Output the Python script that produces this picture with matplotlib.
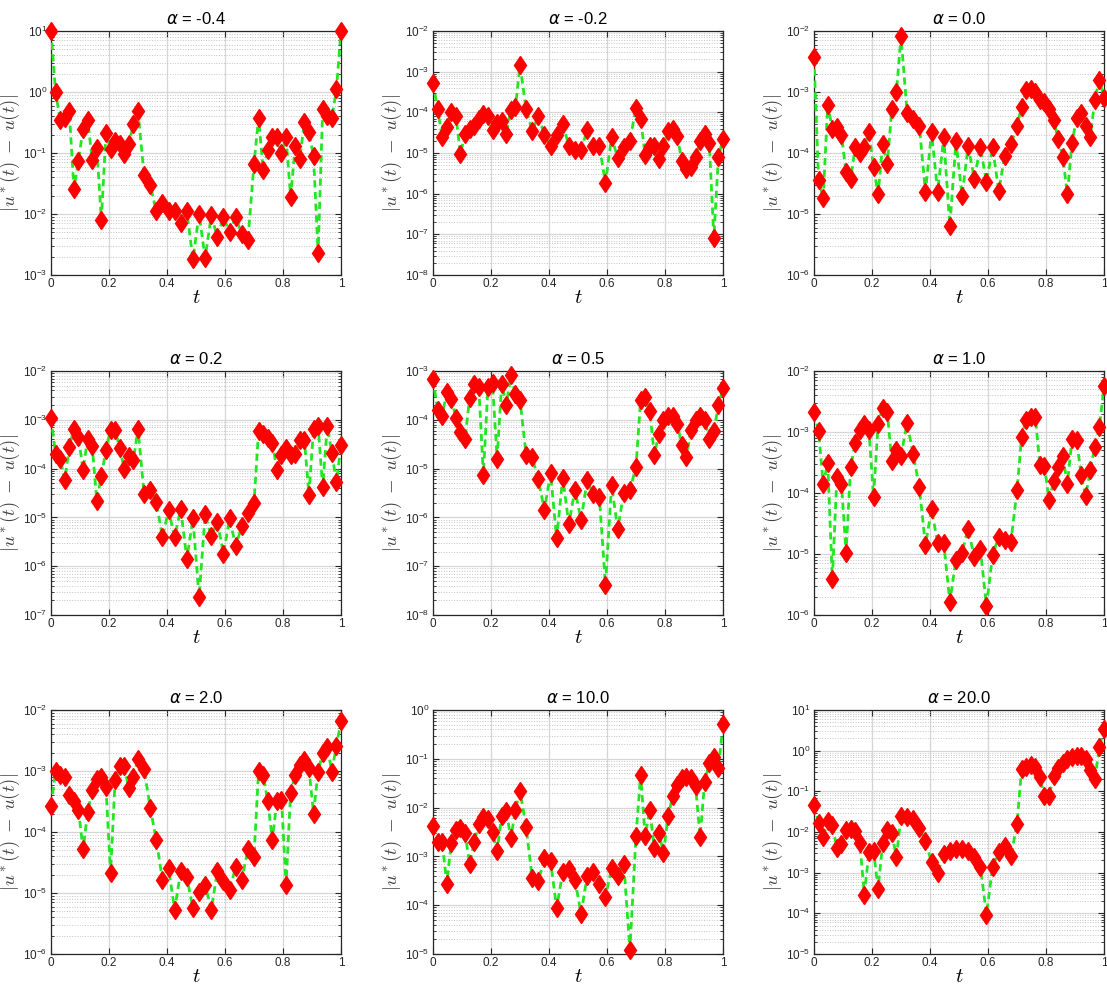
import numpy as np
import matplotlib
matplotlib.use("Agg")
import matplotlib.pyplot as plt

plt.rcParams["font.family"] = ["Liberation Sans", "DejaVu Sans"]

# mesh: three pieces, 20 nodes each, shared end nodes
t_nodes = np.concatenate([
    np.linspace(0.0, 0.3, 20),
    np.linspace(0.3, 0.7, 20)[1:],
    np.linspace(0.7, 1.0, 20)[1:],
])

alphas = ["-0.4", "-0.2", "0.0", "0.2", "0.5", "1.0", "2.0", "10.0", "20.0"]

err_m04 = [10, 1.0, 0.35, 0.37, 0.48, 0.026, 0.075, 0.25, 0.35, 0.078, 0.12, 0.008, 0.21, 0.115,
           0.16, 0.14, 0.095, 0.14, 0.3, 0.48,
           0.043, 0.03, 0.011, 0.015, 0.011, 0.011, 0.007, 0.011, 0.0018, 0.01, 0.0019, 0.0095,
           0.0042, 0.0088, 0.005, 0.0088, 0.0047, 0.0037, 0.066,
           0.38, 0.052, 0.11, 0.18, 0.18, 0.1, 0.18, 0.019, 0.13, 0.08, 0.32, 0.22, 0.088, 0.0023,
           0.52, 0.4, 0.37, 1.1, 10]
err_m02 = [5.4e-4, 1.2e-4, 2.5e-5, 4.3e-5, 1.0e-4, 8e-5, 9.5e-6, 3.0e-5, 3.8e-5, 4.7e-5, 7e-5,
           9e-5, 8e-5, 3.6e-5, 5.5e-5, 6.2e-5, 3.0e-5, 1.15e-4, 1.35e-4, 1.45e-3,
           1.2e-4, 3.5e-5, 8e-5, 2.8e-5, 1.5e-5, 2.8e-5, 5.3e-5, 1.5e-5, 1.2e-5, 1.2e-5, 3.7e-5,
           1.5e-5, 1.5e-5, 1.8e-6, 2.5e-5, 7.5e-6, 1.4e-5, 2.0e-5, 1.3e-4,
           6.8e-5, 9e-6, 1.5e-5, 1.5e-5, 7e-6, 1.5e-5, 3.4e-5, 3.9e-5, 2.6e-5, 6.5e-6, 4e-6, 4.6e-6,
           7.8e-6, 2e-5, 2.9e-5, 1.8e-5, 8.3e-8, 8e-6, 2.2e-5]
err_00 = [3.7e-3, 3.6e-5, 1.8e-5, 6.2e-4, 2.5e-4, 2.7e-4, 2.0e-4, 4.8e-5, 3.7e-5, 1.25e-4, 1.0e-4,
          1.25e-4, 2.2e-4, 5.8e-5, 2.1e-5, 1.4e-4, 6.6e-5, 5.2e-4, 1.0e-3, 8.3e-3,
          4.6e-4, 3.6e-4, 2.8e-4, 2.3e-5, 2.2e-4, 2.3e-5, 1.8e-4, 6.3e-6, 1.55e-4, 2.0e-5, 1.3e-4,
          3.8e-5, 1.25e-4, 3.3e-5, 1.25e-4, 2.4e-5, 9e-5, 1.4e-4, 2.8e-4,
          5.7e-4, 1.07e-3, 1.1e-3, 1.0e-3, 7.5e-4, 6.8e-4, 5.2e-4, 3.5e-4, 1.7e-4, 8.7e-5, 2.1e-5,
          1.45e-4, 3.7e-4, 4.6e-4, 2.8e-4, 1.8e-4, 7.5e-4, 1.6e-3, 8e-4]
err_02 = [1.1e-3, 2.0e-4, 1.6e-4, 5.8e-5, 2.8e-4, 6.6e-4, 4.5e-4, 9.3e-5, 4.1e-4, 2.9e-4, 2.2e-5,
          7.1e-5, 2.4e-4, 6.3e-4, 6.3e-4, 2.6e-4, 1.0e-4, 1.8e-4, 1.5e-4, 6.6e-4,
          3.0e-5, 3.7e-5, 2.1e-5, 3.9e-6, 1.4e-5, 4.0e-6, 1.5e-5, 1.4e-6, 9.5e-6, 2.3e-7, 1.15e-5,
          4.1e-6, 8.1e-6, 1.8e-6, 9.5e-6, 2.6e-6, 6.7e-6, 1.25e-5, 2.0e-5,
          5.9e-4, 5.2e-4, 4.3e-4, 3.4e-4, 9.5e-5, 1.9e-4, 2.7e-4, 1.9e-4, 2.0e-4, 3.8e-4, 3.9e-4,
          2.9e-5, 6.6e-4, 7.5e-4, 4.2e-5, 7.4e-4, 2.1e-4, 5.3e-5, 3.0e-4]
err_05 = [7e-4, 1.6e-4, 1.2e-4, 3.7e-4, 2.7e-4, 1.1e-4, 5.6e-5, 4.1e-5, 2.8e-4, 5.3e-4, 4.7e-4,
          7.3e-6, 4.8e-4, 5.6e-4, 1.6e-5, 5.5e-4, 2.0e-4, 8.2e-4, 3.4e-4, 2.6e-4,
          1.9e-5, 1.7e-5, 6e-6, 1.4e-6, 8.1e-6, 3.7e-7, 6.5e-6, 7.3e-7, 3.7e-6, 8.8e-7, 5.8e-6,
          3.0e-6, 2.6e-6, 4.1e-8, 4.7e-6, 5.7e-7, 3.2e-6, 3.6e-6, 1.1e-5,
          2.5e-4, 2.9e-4, 1.5e-4, 1.9e-5, 5.2e-5, 1.0e-4, 1.2e-4, 1.2e-4, 8.3e-5, 3e-5, 1.7e-5,
          6.1e-5, 1.0e-4, 1.2e-4, 1.0e-4, 4.1e-5, 5.8e-5, 2e-4, 4.4e-4]
err_10 = [2.1e-3, 1.05e-3, 1.4e-4, 3.1e-4, 3.9e-6, 1.8e-4, 1.4e-4, 1.05e-5, 2.7e-4, 6.5e-4, 1.07e-3,
          1.35e-3, 1.07e-3, 8.5e-5, 1.35e-3, 2.5e-3, 2.1e-3, 3.3e-4, 5e-4, 4.1e-4,
          1.4e-3, 4.3e-4, 1.25e-4, 1.4e-5, 5.5e-5, 1.5e-5, 1.5e-5, 1.65e-6, 8.1e-6, 1.05e-5, 2.6e-5,
          8.9e-6, 1.2e-5, 1.4e-6, 9.6e-6, 1.9e-5, 1.7e-5, 1.6e-5, 1.1e-4,
          8.2e-4, 1.6e-3, 1.75e-3, 1.75e-3, 2.9e-4, 2.8e-4, 7.6e-5, 1.55e-4, 2.7e-4, 4e-4, 1.4e-4,
          7.6e-4, 7.5e-4, 2.0e-4, 8.9e-5, 2.4e-4, 5.7e-4, 1.2e-3, 5.7e-3]
err_20 = [2.7e-4, 1.0e-3, 8.7e-4, 8.1e-4, 4.1e-4, 3.2e-4, 2.3e-4, 5.2e-5, 2.1e-4, 4.9e-4, 7.4e-4,
          8.1e-4, 5.4e-4, 2.1e-5, 7.1e-4, 1.2e-3, 1.2e-3, 5.2e-4, 7.9e-4, 1.6e-3,
          1.07e-3, 2.5e-4, 7.4e-5, 1.65e-5, 2.6e-5, 5.3e-6, 2.3e-5, 1.8e-5, 5.6e-6, 1.05e-5, 1.37e-5,
          5.3e-6, 2.3e-5, 1.6e-5, 1.1e-5, 2.7e-5, 1.65e-5, 5.2e-5, 3.9e-5,
          1.0e-3, 8.7e-4, 3.2e-4, 7.4e-5, 3.2e-4, 3.4e-4, 1.37e-5, 4.4e-4, 8.7e-4, 1.25e-3, 1.5e-3,
          1.1e-3, 2.0e-4, 9.8e-4, 2.0e-3, 2.45e-3, 9.8e-4, 2.6e-3, 6.6e-3]
err_100 = [4.2e-3, 1.95e-3, 2.0e-3, 2.75e-4, 1.9e-3, 3.5e-3, 3.8e-3, 3.0e-3, 7.0e-4, 1.95e-3, 4.6e-3,
           6.3e-3, 5.8e-3, 3.1e-3, 1.3e-3, 6.8e-3, 8.7e-3, 2.35e-3, 9e-3, 2.2e-2,
           4.0e-3, 3.6e-4, 3.1e-4, 9.2e-4, 8.1e-4, 8.7e-5, 4.8e-4, 5.5e-4, 3.3e-4, 6.7e-5, 3.9e-4,
           4.9e-4, 2.7e-4, 1.5e-4, 5.7e-4, 3.9e-4, 7.0e-4, 1.23e-5, 2.6e-3,
           4.7e-2, 2.6e-3, 9e-3, 1.5e-3, 3.0e-3, 1.2e-3, 6.6e-3, 1.7e-2, 2.9e-2, 4.0e-2, 4.3e-2,
           4.0e-2, 2.8e-2, 2.5e-3, 3.4e-2, 8.1e-2, 1.1e-1, 6.4e-2, 0.51]
err_200 = [4.7e-2, 1.65e-2, 7.4e-3, 1.9e-2, 1.5e-2, 4.0e-3, 5.0e-3, 1.1e-2, 1.2e-2, 1.05e-2, 5.4e-3,
           2.9e-4, 3.2e-3, 3.5e-3, 4.0e-4, 5.5e-3, 1.1e-2, 9.4e-3, 2.4e-3, 2.5e-2,
           2.3e-2, 2.1e-2, 1.25e-2, 5.9e-3, 1.8e-3, 1.0e-3, 2.8e-3, 3.5e-3, 3.8e-3, 3.8e-3, 3.5e-3,
           2.4e-3, 1.4e-3, 9.3e-5, 1.4e-3, 3.2e-3, 4.4e-3, 2.5e-3, 1.6e-2,
           0.35, 0.4, 0.45, 0.4, 0.22, 7.5e-2, 7.5e-2, 0.24, 0.37, 0.5, 0.62, 0.7, 0.76, 0.76,
           0.63, 0.34, 0.2, 1.25, 3.5]

errors = [err_m04, err_m02, err_00, err_02, err_05, err_10, err_20, err_100, err_200]
ylims = [(1e-3, 1e1), (1e-8, 1e-2), (1e-6, 1e-2),
         (1e-7, 1e-2), (1e-8, 1e-3), (1e-6, 1e-2),
         (1e-6, 1e-2), (1e-5, 1e0), (1e-5, 1e1)]

W, H = 1107, 996
fig = plt.figure(figsize=(W / 100, H / 100), dpi=100)

col_left = [51, 433, 814]
row_top = [31, 371, 710]
ax_w, ax_h = 290, 244

for i, (alpha, err, ylim) in enumerate(zip(alphas, errors, ylims)):
    r, c = divmod(i, 3)
    ax = fig.add_axes([col_left[c] / W, 1 - (row_top[r] + ax_h) / H, ax_w / W, ax_h / H])

    ax.plot(t_nodes, err, linestyle="--", dashes=(2.6, 1.6), color="#22e622", lw=2.0, zorder=3)
    ax.plot(t_nodes, err, linestyle="none", marker="d", markersize=9.5,
            color="#ff0000", markeredgecolor="#ff0000", zorder=4, clip_on=False)

    ax.set_yscale("log")
    ax.set_xlim(0, 1)
    ax.set_ylim(*ylim)
    ax.set_xticks([0, 0.2, 0.4, 0.6, 0.8, 1.0])
    ax.set_xticklabels(["0", "0.2", "0.4", "0.6", "0.8", "1"])

    ax.grid(True, which="major", color="#d6d6d6", lw=0.9, ls="-")
    ax.yaxis.grid(True, which="minor", color="#c4c4c4", lw=0.7, ls=":")
    ax.set_axisbelow(True)

    ax.tick_params(which="both", direction="in", top=True, right=True,
                   colors="#262626", labelsize=8.5)
    ax.tick_params(which="major", length=4, width=0.8, pad=2.5)
    ax.tick_params(which="minor", length=2, width=0.6)
    for sp in ax.spines.values():
        sp.set_color("#262626")
        sp.set_linewidth(0.9)

    ax.set_title(r"$\alpha$ = " + alpha, fontsize=12, pad=5)
    ax.set_xlabel(r"$t$", fontsize=15, math_fontfamily="cm", labelpad=-2)
    ax.set_ylabel(r"$|u^*(t)\;-\;u(t)|$", fontsize=13.5, math_fontfamily="cm",
                  color="#404040")
    ax.yaxis.set_label_coords(-0.1, 0.5)

fig.savefig("out.png", dpi=100)
